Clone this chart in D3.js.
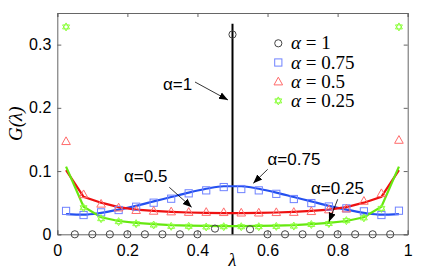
<!DOCTYPE html>
<html>
<head>
<meta charset="utf-8">
<script src="https://cdn.jsdelivr.net/npm/d3@7"></script>
<style>
body { margin: 0; background: #fff; }
</style>
</head>
<body>
<div id="chart"></div>
<script>
// lambda positions of the simulation markers
var lam = [0.025, 0.075, 0.125, 0.175, 0.225, 0.275, 0.325, 0.375, 0.425, 0.475,
           0.525, 0.575, 0.625, 0.675, 0.725, 0.775, 0.825, 0.875, 0.925, 0.975];
var lamCircle = [0.05, 0.10, 0.15, 0.20, 0.25, 0.30, 0.35, 0.40, 0.45, 0.50,
                 0.55, 0.60, 0.65, 0.70, 0.75, 0.80, 0.85, 0.90, 0.95];

// markers (simulation)
var a1 = [0, 0, 0, 0, 0, 0, 0, 0, 0.009, 0.316, 0.008, 0, 0, 0, 0, 0, 0, 0, 0];
var a075 = [0.037, 0.0305, 0.0347, 0.0384, 0.0436, 0.050, 0.0563, 0.0648, 0.0695, 0.0747,
            0.0716, 0.0695, 0.064, 0.0558, 0.0494, 0.044, 0.041, 0.0363, 0.0305, 0.0373];
var a05 = [0.147, 0.063, 0.048, 0.042, 0.038, 0.0368, 0.0358, 0.035, 0.035, 0.0347,
           0.034, 0.034, 0.0347, 0.035, 0.0363, 0.039, 0.0405, 0.0526, 0.0647, 0.149];
var a025 = [0.328, 0.042, 0.0247, 0.020, 0.0168, 0.0147, 0.0126, 0.0126, 0.0116, 0.012,
            0.012, 0.012, 0.0125, 0.013, 0.0155, 0.017, 0.0216, 0.026, 0.041, 0.328];

// theory curves
var fit075 = [0.032, 0.031, 0.034, 0.039, 0.045, 0.052, 0.059, 0.066, 0.072, 0.076,
              0.076, 0.072, 0.066, 0.059, 0.052, 0.045, 0.039, 0.034, 0.031, 0.032];
var fit05 = [0.1016, 0.0594, 0.050, 0.043, 0.039, 0.037, 0.0355, 0.0345, 0.034, 0.0335,
             0.0335, 0.034, 0.0345, 0.0355, 0.037, 0.039, 0.043, 0.050, 0.0594, 0.1016];
var fit025 = [0.107, 0.0437, 0.027, 0.021, 0.018, 0.016, 0.0145, 0.0138, 0.0132, 0.013,
              0.013, 0.0132, 0.0138, 0.0145, 0.016, 0.018, 0.021, 0.027, 0.0437, 0.107];
var fit1Top = 0.333;

var xTicks = [0, 0.2, 0.4, 0.6, 0.8, 1];
var yTicks = [0, 0.1, 0.2, 0.3];
var legendLabels = ["1", "0.75", "0.5", "0.25"];

var width = 436, height = 273;
var margin = {left: 57.3, right: 28.3, top: 13, bottom: 38.7};

var svg = d3.select("#chart").append("svg")
    .attr("width", width)
    .attr("height", height)
    .attr("font-family", "Liberation Sans, Arial, sans-serif");

var x = d3.scaleLinear().domain([0, 1]).range([margin.left, width - margin.right]);
var y = d3.scaleLinear().domain([0, 0.35]).range([height - margin.bottom, margin.top]);

var lineCol = {b: "#2450f0", r: "#ee1010", g: "#66e810"};
var markCol = {k: "#444", b: "#6f82ff", r: "#ff6a6a", g: "#8cff3c"};

svg.append("defs").append("marker")
    .attr("id", "arrow")
    .attr("viewBox", "0 0 10 10")
    .attr("refX", 10).attr("refY", 5)
    .attr("markerWidth", 9).attr("markerHeight", 9)
    .attr("markerUnits", "userSpaceOnUse")
    .attr("orient", "auto")
    .append("path")
    .attr("d", "M0,1 L10,5 L0,9 Z")
    .attr("fill", "black");

// axes (inside ticks, box)
var axisB = svg.append("g")
    .attr("transform", "translate(0," + y(0) + ")")
    .call(d3.axisBottom(x).tickValues(xTicks).tickSize(-4).tickPadding(10)
        .tickFormat(function(d) { return d === 0 || d === 1 ? d : d.toFixed(1); }));
var axisT = svg.append("g")
    .attr("transform", "translate(0," + y(0.35) + ")")
    .call(d3.axisTop(x).tickValues(xTicks).tickSize(-4).tickFormat(""));
var axisL = svg.append("g")
    .attr("transform", "translate(" + x(0) + ",0)")
    .call(d3.axisLeft(y).tickValues(yTicks).tickSize(-4).tickPadding(6)
        .tickFormat(function(d) { return d === 0 ? "0" : d.toFixed(1); }));
var axisR = svg.append("g")
    .attr("transform", "translate(" + x(1) + ",0)")
    .call(d3.axisRight(y).tickValues(yTicks).tickSize(-4).tickFormat(""));

[axisB, axisT, axisL, axisR].forEach(function(g) {
    g.attr("font-family", "Liberation Sans, Arial, sans-serif");
    g.select(".domain").attr("stroke", "#666").attr("stroke-width", 1);
    g.selectAll(".tick line").attr("stroke", "#666");
    g.selectAll(".tick text").attr("font-size", "16px").attr("fill", "#000");
});
axisB.selectAll(".tick text").attr("dy", "0.75em");

// theory curves
var line = d3.line()
    .x(function(d) { return x(d[0]); })
    .y(function(d) { return y(d[1]); });
var smooth = d3.line()
    .x(function(d) { return x(d[0]); })
    .y(function(d) { return y(d[1]); })
    .curve(d3.curveMonotoneX);

svg.append("line")
    .attr("x1", x(0.5)).attr("x2", x(0.5))
    .attr("y1", y(0)).attr("y2", y(fit1Top))
    .attr("stroke", "black").attr("stroke-width", 2);

svg.append("path").datum(d3.zip(lam, fit075)).attr("d", smooth)
    .attr("fill", "none").attr("stroke", lineCol.b).attr("stroke-width", 2.2);
svg.append("path").datum(d3.zip(lam, fit05)).attr("d", line)
    .attr("fill", "none").attr("stroke", lineCol.r).attr("stroke-width", 2.2);
svg.append("path").datum(d3.zip(lam, fit025)).attr("d", line)
    .attr("fill", "none").attr("stroke", lineCol.g).attr("stroke-width", 2.2);

// marker shapes
function hexagram(r) {
    var p1 = [], p2 = [];
    for (var i = 0; i < 3; i++) {
        var t1 = -Math.PI / 2 + i * 2 * Math.PI / 3;
        var t2 = Math.PI / 2 + i * 2 * Math.PI / 3;
        p1.push([r * Math.cos(t1), r * Math.sin(t1)]);
        p2.push([r * Math.cos(t2), r * Math.sin(t2)]);
    }
    return "M" + p1.join("L") + "Z M" + p2.join("L") + "Z";
}
function drawMarker(g, type, cx, cy, col) {
    if (type === "o") {
        g.append("circle").attr("cx", cx).attr("cy", cy).attr("r", 3.6)
            .attr("fill", "none").attr("stroke", col).attr("stroke-width", 1);
    } else if (type === "s") {
        g.append("rect").attr("x", cx - 3.6).attr("y", cy - 3.6)
            .attr("width", 7.2).attr("height", 7.2)
            .attr("fill", "none").attr("stroke", col).attr("stroke-width", 1);
    } else if (type === "^") {
        g.append("path").attr("transform", "translate(" + cx + "," + cy + ")")
            .attr("d", "M0,-4.5L4.3,3.2L-4.3,3.2Z")
            .attr("fill", "none").attr("stroke", col).attr("stroke-width", 1);
    } else {
        g.append("path").attr("transform", "translate(" + cx + "," + cy + ")")
            .attr("d", hexagram(4))
            .attr("fill", "none").attr("stroke", col).attr("stroke-width", 1);
    }
}

var marks = svg.append("g");
lamCircle.forEach(function(l, i) { drawMarker(marks, "o", x(l), y(a1[i]), markCol.k); });
lam.forEach(function(l, i) { drawMarker(marks, "s", x(l), y(a075[i]), markCol.b); });
lam.forEach(function(l, i) { drawMarker(marks, "^", x(l), y(a05[i]), markCol.r); });
lam.forEach(function(l, i) { drawMarker(marks, "h", x(l), y(a025[i]), markCol.g); });

// legend
var legTypes = ["o", "s", "^", "h"];
var legCols = [markCol.k, markCol.b, markCol.r, markCol.g];
var leg = svg.append("g");
legendLabels.forEach(function(lb, i) {
    var ly = 43.3 + i * 19.2;
    drawMarker(leg, legTypes[i], 278.3, ly, legCols[i]);
    var t = leg.append("text").attr("x", 291).attr("y", ly + 6)
        .attr("font-family", "Liberation Serif, serif")
        .attr("font-size", "19px");
    t.append("tspan").attr("font-style", "italic").text("α");
    t.append("tspan").text(" = " + lb);
});

// annotations
var notes = [
    {t: "α=1", tx: 163, ty: 90, x1: 195, y1: 82, x2: 228, y2: 100},
    {t: "α=0.5", tx: 124, ty: 182, x1: 169.3, y1: 187.3, x2: 191.7, y2: 207.3},
    {t: "α=0.75", tx: 267.5, ty: 165, x1: 267.7, y1: 169.3, x2: 253.3, y2: 183.3},
    {t: "α=0.25", tx: 311, ty: 194, x1: 337.7, y1: 199.3, x2: 329, y2: 221.7}
];
notes.forEach(function(n) {
    svg.append("text").attr("x", n.tx).attr("y", n.ty)
        .attr("font-size", "17px").text(n.t);
    svg.append("line").attr("x1", n.x1).attr("y1", n.y1).attr("x2", n.x2).attr("y2", n.y2)
        .attr("stroke", "black").attr("stroke-width", 0.8)
        .attr("marker-end", "url(#arrow)");
});

// axis labels
svg.append("text")
    .attr("transform", "translate(22," + ((y(0) + y(0.35)) / 2) + ") rotate(-90)")
    .attr("text-anchor", "middle")
    .attr("font-family", "Liberation Serif, serif").attr("font-style", "italic")
    .attr("font-size", "19px")
    .text("G(λ)");
svg.append("text")
    .attr("x", x(0.5)).attr("y", 266)
    .attr("text-anchor", "middle")
    .attr("font-family", "Liberation Serif, serif").attr("font-style", "italic")
    .attr("font-size", "18px")
    .text("λ");
</script>
</body>
</html>
